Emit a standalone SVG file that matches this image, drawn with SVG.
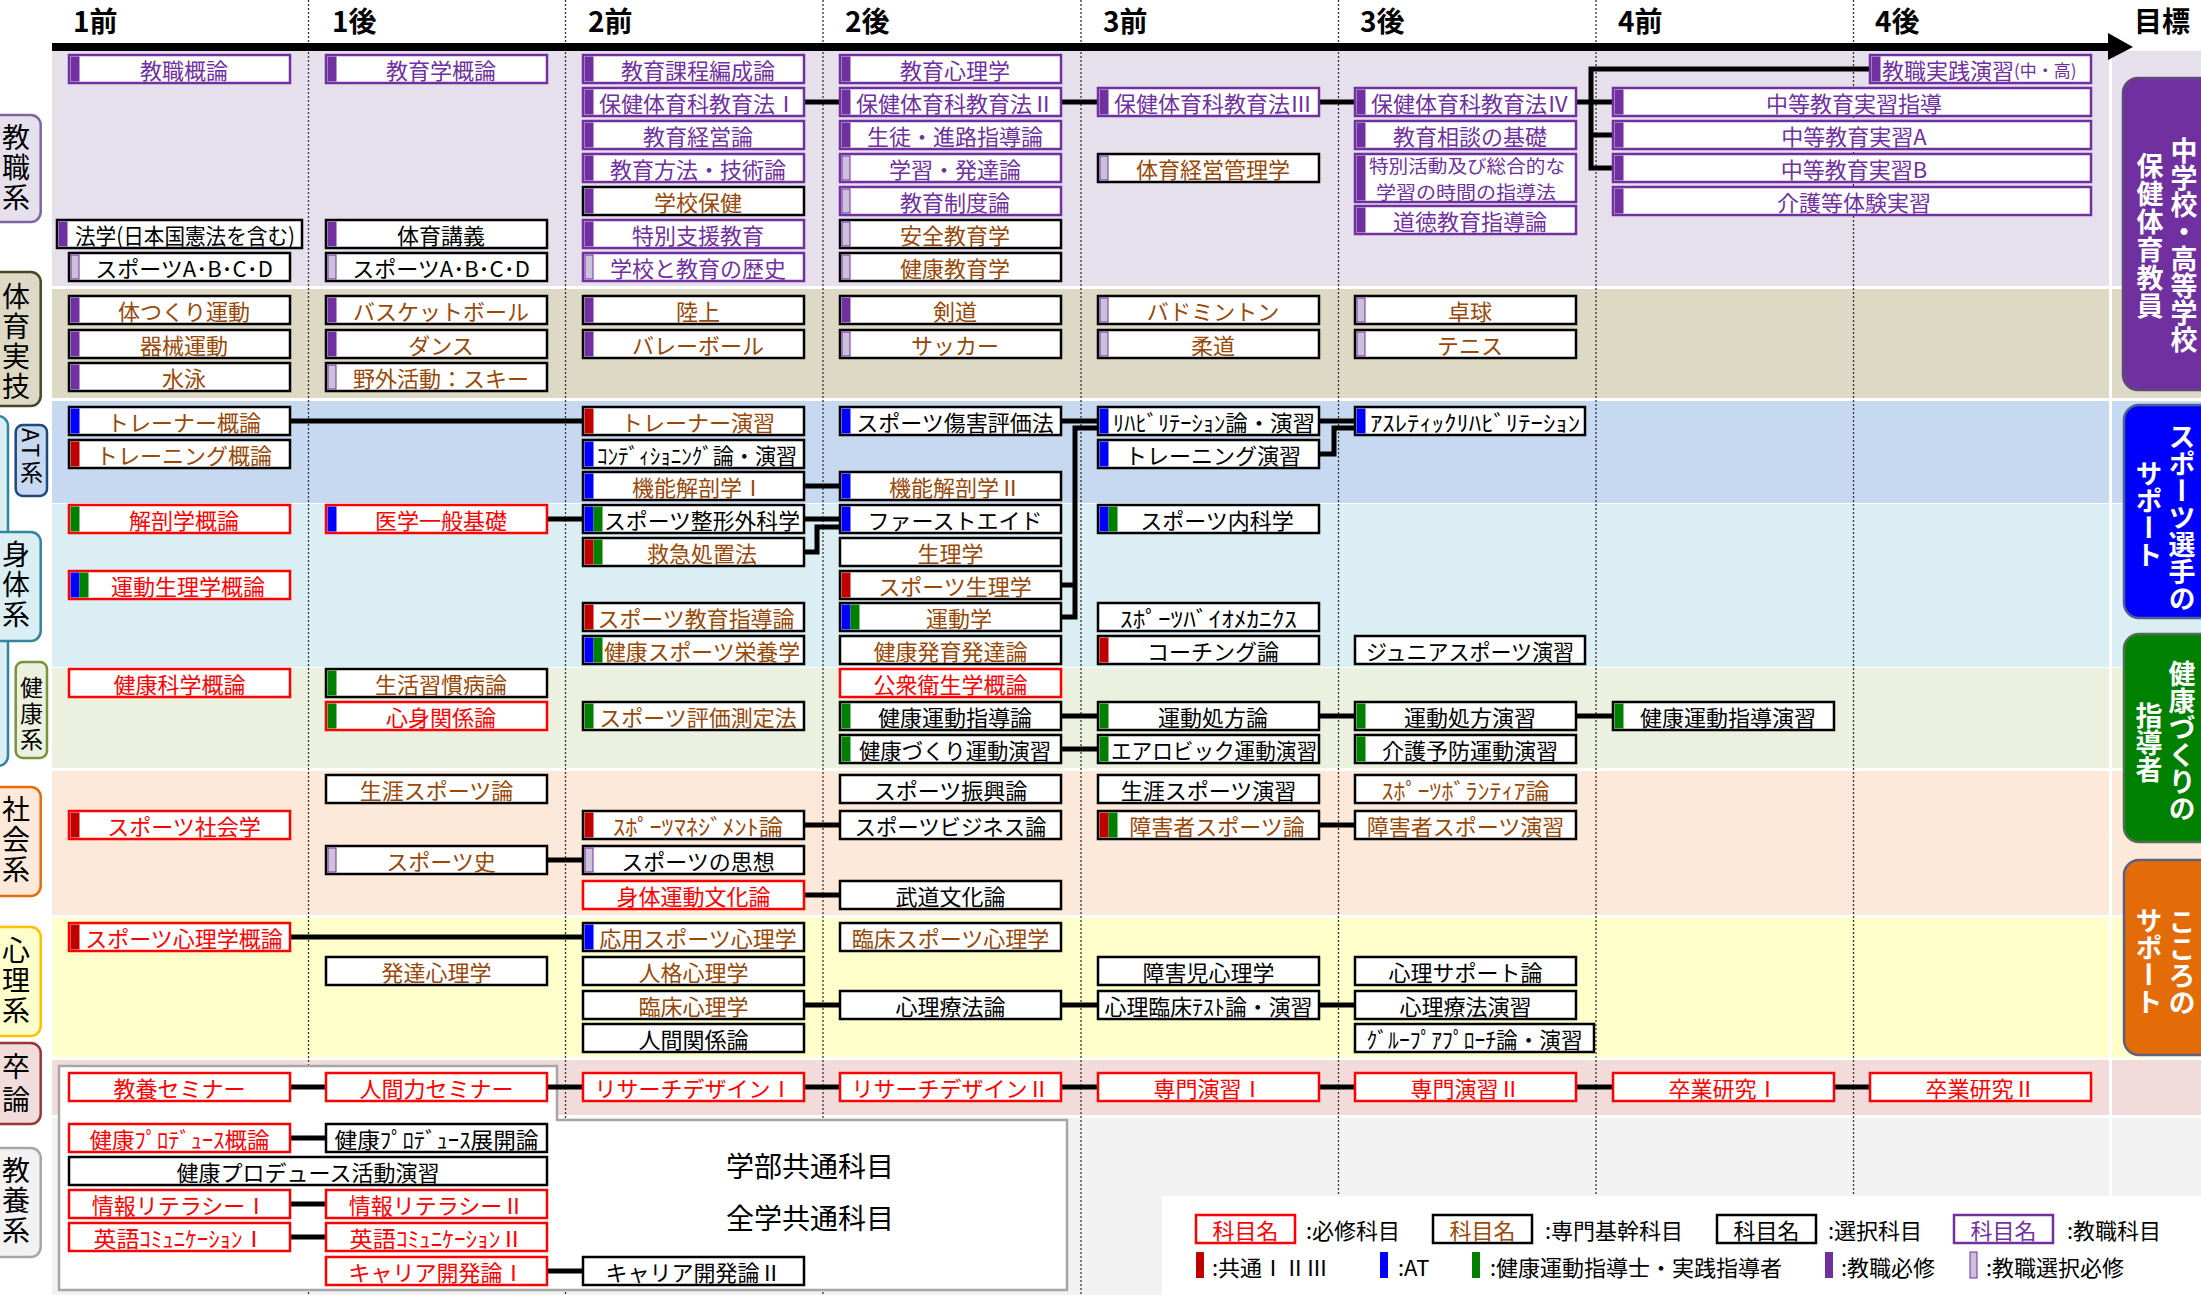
<svg xmlns="http://www.w3.org/2000/svg" width="2201" height="1295" viewBox="0 0 2201 1295">
<style>
text{font-family:"Noto Sans CJK JP","Noto Sans CJK SC","Noto Sans",sans-serif}
.b{fill:#fff;stroke:#000;stroke-width:2.5}
.bp{stroke:#7030A0}
.br{stroke:#FF0000}
.t{font-size:22px;text-anchor:middle;dominant-baseline:central}
.k{fill:#000}.o{fill:#984807}.p{fill:#7030A0}.r{fill:#FF0000}
.vp{fill:#7030A0}.vl{fill:#CCC0DA;stroke:#7030A0;stroke-width:1}.vr{fill:#C00000}.vb{fill:#0000FF}.vg{fill:#008000}
.c{fill:none;stroke:#000;stroke-width:5;stroke-linecap:square}
.h{font-size:28px;font-weight:bold;fill:#000}
.lab{font-size:28px;writing-mode:vertical-rl;letter-spacing:2px;fill:#000}
.labs{font-size:23px;writing-mode:vertical-rl;letter-spacing:3px;fill:#000}
.gl{fill:#fff;font-size:27px;font-weight:bold;writing-mode:vertical-rl}
.dot{stroke:#333;stroke-width:1.3;stroke-dasharray:2 2}
.lg{font-size:22px;dominant-baseline:central;fill:#000}
</style>
<rect width="2201" height="1295" fill="#fff"/>
<g id="bands">
<rect x="52" y="51" width="2149" height="235" fill="#E6E0EC"/>
<rect x="52" y="289" width="2149" height="109" fill="#DDD9C4"/>
<rect x="52" y="401" width="2149" height="102" fill="#C6D9F1"/>
<rect x="52" y="504" width="2149" height="163" fill="#DBEEF3"/>
<rect x="52" y="668" width="2149" height="100" fill="#EBF1DE"/>
<rect x="52" y="771" width="2149" height="144" fill="#FDE9D9"/>
<rect x="52" y="918" width="2149" height="139" fill="#FFFFCC"/>
<rect x="52" y="1060" width="2149" height="55" fill="#F2DCDB"/>
<rect x="52" y="1118" width="2149" height="177" fill="#F2F2F2"/>
<rect x="2109" y="51" width="3" height="1244" fill="#fff"/>
</g>
<g id="grid">
<line class="dot" x1="308.5" y1="0" x2="308.5" y2="1295"/>
<line class="dot" x1="565.5" y1="0" x2="565.5" y2="1295"/>
<line class="dot" x1="823" y1="0" x2="823" y2="1295"/>
<line class="dot" x1="1081" y1="0" x2="1081" y2="1295"/>
<line class="dot" x1="1338.5" y1="0" x2="1338.5" y2="1295"/>
<line class="dot" x1="1596" y1="0" x2="1596" y2="1295"/>
<line class="dot" x1="1853.5" y1="0" x2="1853.5" y2="1295"/>
</g>
<g id="header">
<rect x="52" y="43" width="2058" height="8" fill="#000"/>
<polygon points="2108,33 2133,47 2108,60" fill="#000"/>
<text class="h" x="73" y="32">1前</text>
<text class="h" x="332" y="32">1後</text>
<text class="h" x="588" y="32">2前</text>
<text class="h" x="845" y="32">2後</text>
<text class="h" x="1103" y="32">3前</text>
<text class="h" x="1360" y="32">3後</text>
<text class="h" x="1618" y="32">4前</text>
<text class="h" x="1875" y="32">4後</text>
<text class="h" x="2134" y="32">目標</text>
</g>
<g id="panel">
<path d="M59,1066H557V1120H1067V1290H59Z" fill="#fff" stroke="#A6A6A6" stroke-width="2.5"/>
<text x="726" y="1165" font-size="28" dominant-baseline="central">学部共通科目</text>
<text x="726" y="1217" font-size="28" dominant-baseline="central">全学共通科目</text>
</g>
<g id="labels">
<rect x="-20" y="115" width="60.7" height="107" rx="10" fill="#E6E0EC" stroke="#8064A2" stroke-width="2.5"/>
<text class="lab" x="16" y="123">教職系</text>
<rect x="-20" y="272" width="60.7" height="134" rx="10" fill="#DDD9C4" stroke="#4A452A" stroke-width="2.5"/>
<text class="lab" x="16" y="282">体育実技</text>
<rect x="-20" y="416" width="28" height="350" rx="10" fill="#DBEEF3" stroke="#31859C" stroke-width="2.5"/>
<rect x="-20" y="532" width="60.7" height="109" rx="10" fill="#DBEEF3" stroke="#31859C" stroke-width="2.5"/>
<text class="lab" x="16" y="540">身体系</text>
<rect x="15.7" y="425" width="31.3" height="71" rx="7" fill="#C6D9F1" stroke="#1F497D" stroke-width="2.5"/>
<text class="labs" x="31.5" y="428">AT系</text>
<rect x="15.7" y="662" width="31.3" height="96" rx="7" fill="#EBF1DE" stroke="#77933C" stroke-width="2.5"/>
<text class="labs" x="31.5" y="676">健康系</text>
<rect x="-20" y="787" width="60.7" height="109" rx="10" fill="#FDE9D9" stroke="#E46C0A" stroke-width="2.5"/>
<text class="lab" x="16" y="795">社会系</text>
<rect x="-20" y="927" width="60.7" height="109" rx="10" fill="#FFFFCC" stroke="#FFC000" stroke-width="2.5"/>
<text class="lab" x="16" y="936">心理系</text>
<rect x="-20" y="1043" width="60.7" height="81" rx="10" fill="#F2DCDB" stroke="#953735" stroke-width="2.5"/>
<text class="lab" x="16" y="1052" style="letter-spacing:5px">卒論</text>
<rect x="-20" y="1148" width="60.7" height="109" rx="10" fill="#F2F2F2" stroke="#A6A6A6" stroke-width="2.5"/>
<text class="lab" x="16" y="1156">教養系</text>
</g>
<g id="goals">
<rect x="2123" y="78" width="100" height="312" rx="15" fill="#7030A0" stroke="#5F497A" stroke-width="2.5"/>
<text class="gl" x="2184" y="137">中学校・高等学校</text>
<text class="gl" x="2150" y="152" style="letter-spacing:1px">保健体育教員</text>
<rect x="2124" y="405" width="100" height="213" rx="15" fill="#0000FF" stroke="#4F5F8F" stroke-width="2.5"/>
<text class="gl" x="2182" y="423">スポーツ選手の</text>
<text class="gl" x="2149" y="460">サポート</text>
<rect x="2124" y="634" width="100" height="208" rx="15" fill="#008000" stroke="#4F6F4F" stroke-width="2.5"/>
<text class="gl" x="2182" y="660">健康づくりの</text>
<text class="gl" x="2149" y="702">指導者</text>
<rect x="2124" y="860" width="100" height="195" rx="15" fill="#E36C09" stroke="#5F5F7F" stroke-width="2.5"/>
<text class="gl" x="2182" y="908">こころの</text>
<text class="gl" x="2149" y="907">サポート</text>
</g>
<g id="connectors">
<path class="c" d="M804,102H840M1061,102H1098M1319,102H1355M1576,102H1613M1591,69V168M1591,69H1870M1591,135H1613M1591,168H1613M290,421H583M547,519H583M804,486H840M804,519H840M804,552H817V527H840M1061,421H1098M1061,585H1075M1061,617H1075V428H1098M1319,421H1355M1319,454H1334V428H1355M1061,716H1098M1319,716H1355M1576,716H1613M1061,749H1098M804,825H840M1319,825H1355M547,860H583M804,895H840M290,937H583M804,1005H840M1061,1005H1098M1319,1005H1355M290,1087H326M547,1087H583M804,1087H840M1061,1087H1098M1319,1087H1355M1576,1087H1613M1834,1087H1870M290,1138H326M290,1204H326M290,1237H326M547,1271H583"/>
</g>
<g id="n01"><rect class="b bp" x="69" y="55" width="221" height="28"/><rect class="vp" x="70.5" y="56.5" width="9" height="25"/><text class="t p" x="184" y="69">教職概論</text></g>
<g id="n02"><rect class="b" x="57" y="220" width="245" height="28"/><rect class="vp" x="58.5" y="221.5" width="9" height="25"/><text class="t k" x="185" y="234" textLength="220" lengthAdjust="spacingAndGlyphs">法学(日本国憲法を含む)</text></g>
<g id="n03"><rect class="b" x="69" y="253" width="221" height="28"/><rect class="vl" x="71" y="255" width="8" height="24"/><text class="t k" x="184" y="267">スポーツA･B･C･D</text></g>
<g id="n04"><rect class="b bp" x="326" y="55" width="221" height="28"/><rect class="vp" x="327.5" y="56.5" width="9" height="25"/><text class="t p" x="441" y="69">教育学概論</text></g>
<g id="n05"><rect class="b" x="326" y="220" width="221" height="28"/><rect class="vp" x="327.5" y="221.5" width="9" height="25"/><text class="t k" x="441" y="234">体育講義</text></g>
<g id="n06"><rect class="b" x="326" y="253" width="221" height="28"/><rect class="vl" x="328" y="255" width="8" height="24"/><text class="t k" x="441" y="267">スポーツA･B･C･D</text></g>
<g id="n07"><rect class="b bp" x="583" y="55" width="221" height="28"/><rect class="vp" x="584.5" y="56.5" width="9" height="25"/><text class="t p" x="698" y="69">教育課程編成論</text></g>
<g id="n08"><rect class="b bp" x="583" y="88" width="221" height="28"/><rect class="vp" x="584.5" y="89.5" width="9" height="25"/><text class="t p" x="698" y="102">保健体育科教育法Ⅰ</text></g>
<g id="n09"><rect class="b bp" x="583" y="121" width="221" height="28"/><rect class="vp" x="584.5" y="122.5" width="9" height="25"/><text class="t p" x="698" y="135">教育経営論</text></g>
<g id="n10"><rect class="b bp" x="583" y="154" width="221" height="28"/><rect class="vp" x="584.5" y="155.5" width="9" height="25"/><text class="t p" x="698" y="168">教育方法・技術論</text></g>
<g id="n11"><rect class="b" x="583" y="187" width="221" height="28"/><rect class="vp" x="584.5" y="188.5" width="9" height="25"/><text class="t o" x="698" y="201">学校保健</text></g>
<g id="n12"><rect class="b bp" x="583" y="220" width="221" height="28"/><rect class="vp" x="584.5" y="221.5" width="9" height="25"/><text class="t p" x="698" y="234">特別支援教育</text></g>
<g id="n13"><rect class="b bp" x="583" y="253" width="221" height="28"/><rect class="vl" x="585" y="255" width="8" height="24"/><text class="t p" x="698" y="267">学校と教育の歴史</text></g>
<g id="n14"><rect class="b bp" x="840" y="55" width="221" height="28"/><rect class="vp" x="841.5" y="56.5" width="9" height="25"/><text class="t p" x="955" y="69">教育心理学</text></g>
<g id="n15"><rect class="b bp" x="840" y="88" width="221" height="28"/><rect class="vp" x="841.5" y="89.5" width="9" height="25"/><text class="t p" x="955" y="102">保健体育科教育法Ⅱ</text></g>
<g id="n16"><rect class="b bp" x="840" y="121" width="221" height="28"/><rect class="vp" x="841.5" y="122.5" width="9" height="25"/><text class="t p" x="955" y="135">生徒・進路指導論</text></g>
<g id="n17"><rect class="b bp" x="840" y="154" width="221" height="28"/><rect class="vl" x="842" y="156" width="8" height="24"/><text class="t p" x="955" y="168">学習・発達論</text></g>
<g id="n18"><rect class="b bp" x="840" y="187" width="221" height="28"/><rect class="vl" x="842" y="189" width="8" height="24"/><text class="t p" x="955" y="201">教育制度論</text></g>
<g id="n19"><rect class="b" x="840" y="220" width="221" height="28"/><rect class="vl" x="842" y="222" width="8" height="24"/><text class="t o" x="955" y="234">安全教育学</text></g>
<g id="n20"><rect class="b" x="840" y="253" width="221" height="28"/><rect class="vl" x="842" y="255" width="8" height="24"/><text class="t o" x="955" y="267">健康教育学</text></g>
<g id="n21"><rect class="b bp" x="1098" y="88" width="221" height="28"/><rect class="vp" x="1099.5" y="89.5" width="9" height="25"/><text class="t p" x="1213" y="102">保健体育科教育法Ⅲ</text></g>
<g id="n22"><rect class="b" x="1098" y="154" width="221" height="28"/><rect class="vl" x="1100" y="156" width="8" height="24"/><text class="t o" x="1213" y="168">体育経営管理学</text></g>
<g id="n23"><rect class="b bp" x="1355" y="88" width="221" height="28"/><rect class="vp" x="1356.5" y="89.5" width="9" height="25"/><text class="t p" x="1470" y="102">保健体育科教育法Ⅳ</text></g>
<g id="n24"><rect class="b bp" x="1355" y="121" width="221" height="28"/><rect class="vp" x="1356.5" y="122.5" width="9" height="25"/><text class="t p" x="1470" y="135">教育相談の基礎</text></g>
<g id="n25"><rect class="b bp" x="1355" y="154" width="221" height="48"/><rect class="vp" x="1356.5" y="155.5" width="9" height="45"/><text class="t p" x="1467" y="165" style="font-size:18px" textLength="196" lengthAdjust="spacingAndGlyphs">特別活動及び総合的な</text><text class="t p" x="1466" y="191" style="font-size:18px" textLength="180" lengthAdjust="spacingAndGlyphs">学習の時間の指導法</text></g>
<g id="n26"><rect class="b bp" x="1355" y="206" width="221" height="28"/><rect class="vp" x="1356.5" y="207.5" width="9" height="25"/><text class="t p" x="1470" y="220">道徳教育指導論</text></g>
<g id="n27"><rect class="b bp" x="1870" y="55" width="221" height="28"/><rect class="vp" x="1871.5" y="56.5" width="9" height="25"/><text class="p" x="1882" y="69" font-size="22" dominant-baseline="central">教職実践演習<tspan font-size="17">(中・高)</tspan></text></g>
<g id="n28"><rect class="b bp" x="1613" y="88" width="478" height="28"/><rect class="vp" x="1614.5" y="89.5" width="9" height="25"/><text class="t p" x="1854" y="102">中等教育実習指導</text></g>
<g id="n29"><rect class="b bp" x="1613" y="121" width="478" height="28"/><rect class="vp" x="1614.5" y="122.5" width="9" height="25"/><text class="t p" x="1854" y="135">中等教育実習A</text></g>
<g id="n30"><rect class="b bp" x="1613" y="154" width="478" height="28"/><rect class="vp" x="1614.5" y="155.5" width="9" height="25"/><text class="t p" x="1854" y="168">中等教育実習B</text></g>
<g id="n31"><rect class="b bp" x="1613" y="187" width="478" height="28"/><rect class="vp" x="1614.5" y="188.5" width="9" height="25"/><text class="t p" x="1854" y="201">介護等体験実習</text></g>
<g id="n32"><rect class="b" x="69" y="296" width="221" height="28"/><rect class="vp" x="70.5" y="297.5" width="9" height="25"/><text class="t o" x="184" y="310">体つくり運動</text></g>
<g id="n33"><rect class="b" x="69" y="330" width="221" height="28"/><rect class="vp" x="70.5" y="331.5" width="9" height="25"/><text class="t o" x="184" y="344">器械運動</text></g>
<g id="n34"><rect class="b" x="69" y="363" width="221" height="28"/><rect class="vp" x="70.5" y="364.5" width="9" height="25"/><text class="t o" x="184" y="377">水泳</text></g>
<g id="n35"><rect class="b" x="326" y="296" width="221" height="28"/><rect class="vp" x="327.5" y="297.5" width="9" height="25"/><text class="t o" x="441" y="310">バスケットボール</text></g>
<g id="n36"><rect class="b" x="326" y="330" width="221" height="28"/><rect class="vp" x="327.5" y="331.5" width="9" height="25"/><text class="t o" x="441" y="344">ダンス</text></g>
<g id="n37"><rect class="b" x="326" y="363" width="221" height="28"/><rect class="vl" x="328" y="365" width="8" height="24"/><text class="t o" x="441" y="377">野外活動：スキー</text></g>
<g id="n38"><rect class="b" x="583" y="296" width="221" height="28"/><rect class="vp" x="584.5" y="297.5" width="9" height="25"/><text class="t o" x="698" y="310">陸上</text></g>
<g id="n39"><rect class="b" x="583" y="330" width="221" height="28"/><rect class="vp" x="584.5" y="331.5" width="9" height="25"/><text class="t o" x="698" y="344">バレーボール</text></g>
<g id="n40"><rect class="b" x="840" y="296" width="221" height="28"/><rect class="vp" x="841.5" y="297.5" width="9" height="25"/><text class="t o" x="955" y="310">剣道</text></g>
<g id="n41"><rect class="b" x="840" y="330" width="221" height="28"/><rect class="vl" x="842" y="332" width="8" height="24"/><text class="t o" x="955" y="344">サッカー</text></g>
<g id="n42"><rect class="b" x="1098" y="296" width="221" height="28"/><rect class="vl" x="1100" y="298" width="8" height="24"/><text class="t o" x="1213" y="310">バドミントン</text></g>
<g id="n43"><rect class="b" x="1098" y="330" width="221" height="28"/><rect class="vl" x="1100" y="332" width="8" height="24"/><text class="t o" x="1213" y="344">柔道</text></g>
<g id="n44"><rect class="b" x="1355" y="296" width="221" height="28"/><rect class="vl" x="1357" y="298" width="8" height="24"/><text class="t o" x="1470" y="310">卓球</text></g>
<g id="n45"><rect class="b" x="1355" y="330" width="221" height="28"/><rect class="vl" x="1357" y="332" width="8" height="24"/><text class="t o" x="1470" y="344">テニス</text></g>
<g id="n46"><rect class="b" x="69" y="407" width="221" height="28"/><rect class="vb" x="70.5" y="408.5" width="9" height="25"/><text class="t o" x="184" y="421">トレーナー概論</text></g>
<g id="n47"><rect class="b" x="69" y="440" width="221" height="28"/><rect class="vr" x="70.5" y="441.5" width="9" height="25"/><text class="t o" x="184" y="454">トレーニング概論</text></g>
<g id="n48"><rect class="b" x="583" y="407" width="221" height="28"/><rect class="vr" x="584.5" y="408.5" width="9" height="25"/><text class="t o" x="698" y="421">トレーナー演習</text></g>
<g id="n49"><rect class="b" x="583" y="440" width="221" height="28"/><rect class="vb" x="584.5" y="441.5" width="9" height="25"/><text class="t k" x="697" y="454" textLength="200" lengthAdjust="spacingAndGlyphs">ｺﾝﾃﾞｨｼｮﾆﾝｸﾞ論・演習</text></g>
<g id="n50"><rect class="b" x="583" y="472" width="221" height="28"/><rect class="vb" x="584.5" y="473.5" width="9" height="25"/><text class="t o" x="698" y="486">機能解剖学Ⅰ</text></g>
<g id="n51"><rect class="b" x="840" y="407" width="221" height="28"/><rect class="vb" x="841.5" y="408.5" width="9" height="25"/><text class="t k" x="955" y="421">スポーツ傷害評価法</text></g>
<g id="n52"><rect class="b" x="840" y="472" width="221" height="28"/><rect class="vb" x="841.5" y="473.5" width="9" height="25"/><text class="t o" x="955" y="486">機能解剖学Ⅱ</text></g>
<g id="n53"><rect class="b" x="1098" y="407" width="221" height="28"/><rect class="vb" x="1099.5" y="408.5" width="9" height="25"/><text class="t k" x="1214" y="421" textLength="202" lengthAdjust="spacingAndGlyphs">ﾘﾊﾋﾞﾘﾃｰｼｮﾝ論・演習</text></g>
<g id="n54"><rect class="b" x="1098" y="440" width="221" height="28"/><rect class="vb" x="1099.5" y="441.5" width="9" height="25"/><text class="t k" x="1213" y="454">トレーニング演習</text></g>
<g id="n55"><rect class="b" x="1355" y="407" width="230" height="28"/><rect class="vb" x="1356.5" y="408.5" width="9" height="25"/><text class="t k" x="1475" y="421" textLength="210" lengthAdjust="spacingAndGlyphs">ｱｽﾚﾃｨｯｸﾘﾊﾋﾞﾘﾃｰｼｮﾝ</text></g>
<g id="n56"><rect class="b br" x="69" y="505" width="221" height="28"/><rect class="vg" x="70.5" y="506.5" width="9" height="25"/><text class="t r" x="184" y="519">解剖学概論</text></g>
<g id="n57"><rect class="b br" x="69" y="571" width="221" height="28"/><rect class="vb" x="70.5" y="572.5" width="9" height="25"/><rect class="vg" x="79.5" y="572.5" width="9" height="25"/><text class="t r" x="188" y="585">運動生理学概論</text></g>
<g id="n58"><rect class="b br" x="326" y="505" width="221" height="28"/><rect class="vb" x="327.5" y="506.5" width="9" height="25"/><text class="t r" x="441" y="519">医学一般基礎</text></g>
<g id="n59"><rect class="b" x="583" y="505" width="221" height="28"/><rect class="vb" x="584.5" y="506.5" width="9" height="25"/><rect class="vg" x="593.5" y="506.5" width="9" height="25"/><text class="t k" x="702" y="519" textLength="196" lengthAdjust="spacingAndGlyphs">スポーツ整形外科学</text></g>
<g id="n60"><rect class="b" x="583" y="538" width="221" height="28"/><rect class="vr" x="584.5" y="539.5" width="9" height="25"/><rect class="vg" x="593.5" y="539.5" width="9" height="25"/><text class="t o" x="702" y="552">救急処置法</text></g>
<g id="n61"><rect class="b" x="583" y="603" width="221" height="28"/><rect class="vr" x="584.5" y="604.5" width="9" height="25"/><text class="t o" x="696" y="617" textLength="197" lengthAdjust="spacingAndGlyphs">スポーツ教育指導論</text></g>
<g id="n62"><rect class="b" x="583" y="636" width="221" height="28"/><rect class="vb" x="584.5" y="637.5" width="9" height="25"/><rect class="vg" x="593.5" y="637.5" width="9" height="25"/><text class="t o" x="702" y="650" textLength="196" lengthAdjust="spacingAndGlyphs">健康スポーツ栄養学</text></g>
<g id="n63"><rect class="b" x="840" y="505" width="221" height="28"/><rect class="vb" x="841.5" y="506.5" width="9" height="25"/><text class="t k" x="955" y="519">ファーストエイド</text></g>
<g id="n64"><rect class="b" x="840" y="538" width="221" height="28"/><text class="t o" x="950.5" y="552">生理学</text></g>
<g id="n65"><rect class="b" x="840" y="571" width="221" height="28"/><rect class="vr" x="841.5" y="572.5" width="9" height="25"/><text class="t o" x="955" y="585">スポーツ生理学</text></g>
<g id="n66"><rect class="b" x="840" y="603" width="221" height="28"/><rect class="vb" x="841.5" y="604.5" width="9" height="25"/><rect class="vg" x="850.5" y="604.5" width="9" height="25"/><text class="t o" x="959" y="617">運動学</text></g>
<g id="n67"><rect class="b" x="840" y="636" width="221" height="28"/><text class="t o" x="950.5" y="650">健康発育発達論</text></g>
<g id="n68"><rect class="b" x="1098" y="505" width="221" height="28"/><rect class="vb" x="1099.5" y="506.5" width="9" height="25"/><rect class="vg" x="1108.5" y="506.5" width="9" height="25"/><text class="t k" x="1217" y="519">スポーツ内科学</text></g>
<g id="n69"><rect class="b" x="1098" y="603" width="221" height="28"/><text class="t k" x="1208.5" y="617" textLength="177" lengthAdjust="spacingAndGlyphs">ｽﾎﾟｰﾂﾊﾞｲｵﾒｶﾆｸｽ</text></g>
<g id="n70"><rect class="b" x="1098" y="636" width="221" height="28"/><rect class="vr" x="1099.5" y="637.5" width="9" height="25"/><text class="t k" x="1213" y="650">コーチング論</text></g>
<g id="n71"><rect class="b" x="1355" y="636" width="230" height="28"/><text class="t k" x="1470" y="650" textLength="208" lengthAdjust="spacingAndGlyphs">ジュニアスポーツ演習</text></g>
<g id="n72"><rect class="b br" x="69" y="669" width="221" height="28"/><text class="t r" x="179.5" y="683">健康科学概論</text></g>
<g id="n73"><rect class="b" x="326" y="669" width="221" height="28"/><rect class="vg" x="327.5" y="670.5" width="9" height="25"/><text class="t o" x="441" y="683">生活習慣病論</text></g>
<g id="n74"><rect class="b br" x="326" y="702" width="221" height="28"/><rect class="vg" x="327.5" y="703.5" width="9" height="25"/><text class="t r" x="441" y="716">心身関係論</text></g>
<g id="n75"><rect class="b" x="583" y="702" width="221" height="28"/><rect class="vg" x="584.5" y="703.5" width="9" height="25"/><text class="t o" x="698" y="716">スポーツ評価測定法</text></g>
<g id="n76"><rect class="b br" x="840" y="669" width="221" height="28"/><text class="t r" x="950.5" y="683">公衆衛生学概論</text></g>
<g id="n77"><rect class="b" x="840" y="702" width="221" height="28"/><rect class="vg" x="841.5" y="703.5" width="9" height="25"/><text class="t k" x="955" y="716">健康運動指導論</text></g>
<g id="n78"><rect class="b" x="840" y="735" width="221" height="28"/><rect class="vg" x="841.5" y="736.5" width="9" height="25"/><text class="t k" x="955" y="749" textLength="192" lengthAdjust="spacingAndGlyphs">健康づくり運動演習</text></g>
<g id="n79"><rect class="b" x="1098" y="702" width="221" height="28"/><rect class="vg" x="1099.5" y="703.5" width="9" height="25"/><text class="t k" x="1213" y="716">運動処方論</text></g>
<g id="n80"><rect class="b" x="1098" y="735" width="221" height="28"/><rect class="vg" x="1099.5" y="736.5" width="9" height="25"/><text class="t k" x="1214" y="749" textLength="206" lengthAdjust="spacingAndGlyphs">エアロビック運動演習</text></g>
<g id="n81"><rect class="b" x="1355" y="702" width="221" height="28"/><rect class="vg" x="1356.5" y="703.5" width="9" height="25"/><text class="t k" x="1470" y="716">運動処方演習</text></g>
<g id="n82"><rect class="b" x="1355" y="735" width="221" height="28"/><rect class="vg" x="1356.5" y="736.5" width="9" height="25"/><text class="t k" x="1470" y="749">介護予防運動演習</text></g>
<g id="n83"><rect class="b" x="1613" y="702" width="221" height="28"/><rect class="vg" x="1614.5" y="703.5" width="9" height="25"/><text class="t k" x="1728" y="716">健康運動指導演習</text></g>
<g id="n84"><rect class="b br" x="69" y="811" width="221" height="28"/><rect class="vr" x="70.5" y="812.5" width="9" height="25"/><text class="t r" x="184" y="825">スポーツ社会学</text></g>
<g id="n85"><rect class="b" x="326" y="775" width="221" height="28"/><text class="t o" x="436.5" y="789">生涯スポーツ論</text></g>
<g id="n86"><rect class="b" x="326" y="846" width="221" height="28"/><rect class="vl" x="328" y="848" width="8" height="24"/><text class="t o" x="441" y="860">スポーツ史</text></g>
<g id="n87"><rect class="b" x="583" y="811" width="221" height="28"/><rect class="vr" x="584.5" y="812.5" width="9" height="25"/><text class="t o" x="698" y="825" textLength="170" lengthAdjust="spacingAndGlyphs">ｽﾎﾟｰﾂﾏﾈｼﾞﾒﾝﾄ論</text></g>
<g id="n88"><rect class="b" x="583" y="846" width="221" height="28"/><rect class="vl" x="585" y="848" width="8" height="24"/><text class="t k" x="698" y="860">スポーツの思想</text></g>
<g id="n89"><rect class="b br" x="583" y="881" width="221" height="28"/><text class="t r" x="693.5" y="895">身体運動文化論</text></g>
<g id="n90"><rect class="b" x="840" y="775" width="221" height="28"/><text class="t k" x="950.5" y="789">スポーツ振興論</text></g>
<g id="n91"><rect class="b" x="840" y="811" width="221" height="28"/><text class="t k" x="950.5" y="825" textLength="192" lengthAdjust="spacingAndGlyphs">スポーツビジネス論</text></g>
<g id="n92"><rect class="b" x="840" y="881" width="221" height="28"/><text class="t k" x="950.5" y="895">武道文化論</text></g>
<g id="n93"><rect class="b" x="1098" y="775" width="221" height="28"/><text class="t k" x="1208.5" y="789">生涯スポーツ演習</text></g>
<g id="n94"><rect class="b" x="1098" y="811" width="221" height="28"/><rect class="vr" x="1099.5" y="812.5" width="9" height="25"/><rect class="vg" x="1108.5" y="812.5" width="9" height="25"/><text class="t o" x="1217" y="825">障害者スポーツ論</text></g>
<g id="n95"><rect class="b" x="1355" y="775" width="221" height="28"/><text class="t o" x="1465.5" y="789" textLength="168" lengthAdjust="spacingAndGlyphs">ｽﾎﾟｰﾂﾎﾞﾗﾝﾃｨｱ論</text></g>
<g id="n96"><rect class="b" x="1355" y="811" width="221" height="28"/><text class="t o" x="1465.5" y="825">障害者スポーツ演習</text></g>
<g id="n97"><rect class="b br" x="69" y="923" width="221" height="28"/><rect class="vr" x="70.5" y="924.5" width="9" height="25"/><text class="t r" x="184" y="937">スポーツ心理学概論</text></g>
<g id="n98"><rect class="b" x="326" y="957" width="221" height="28"/><text class="t o" x="436.5" y="971">発達心理学</text></g>
<g id="n99"><rect class="b" x="583" y="923" width="221" height="28"/><rect class="vb" x="584.5" y="924.5" width="9" height="25"/><text class="t o" x="698" y="937">応用スポーツ心理学</text></g>
<g id="n100"><rect class="b" x="583" y="957" width="221" height="28"/><text class="t o" x="693.5" y="971">人格心理学</text></g>
<g id="n101"><rect class="b" x="583" y="991" width="221" height="28"/><text class="t o" x="693.5" y="1005">臨床心理学</text></g>
<g id="n102"><rect class="b" x="583" y="1024" width="221" height="28"/><text class="t k" x="693.5" y="1038">人間関係論</text></g>
<g id="n103"><rect class="b" x="840" y="923" width="221" height="28"/><text class="t o" x="950.5" y="937">臨床スポーツ心理学</text></g>
<g id="n104"><rect class="b" x="840" y="991" width="221" height="28"/><text class="t k" x="950.5" y="1005">心理療法論</text></g>
<g id="n105"><rect class="b" x="1098" y="957" width="221" height="28"/><text class="t k" x="1208.5" y="971">障害児心理学</text></g>
<g id="n106"><rect class="b" x="1098" y="991" width="221" height="28"/><text class="t k" x="1208.5" y="1005" textLength="208" lengthAdjust="spacingAndGlyphs">心理臨床ﾃｽﾄ論・演習</text></g>
<g id="n107"><rect class="b" x="1355" y="957" width="221" height="28"/><text class="t k" x="1465.5" y="971">心理サポート論</text></g>
<g id="n108"><rect class="b" x="1355" y="991" width="221" height="28"/><text class="t k" x="1465.5" y="1005">心理療法演習</text></g>
<g id="n109"><rect class="b" x="1355" y="1024" width="239" height="28"/><text class="t k" x="1474.5" y="1038" textLength="216" lengthAdjust="spacingAndGlyphs">ｸﾞﾙｰﾌﾟｱﾌﾟﾛｰﾁ論・演習</text></g>
<g id="n110"><rect class="b br" x="69" y="1073" width="221" height="28"/><text class="t r" x="179.5" y="1087">教養セミナー</text></g>
<g id="n111"><rect class="b br" x="326" y="1073" width="221" height="28"/><text class="t r" x="436.5" y="1087">人間力セミナー</text></g>
<g id="n112"><rect class="b br" x="583" y="1073" width="221" height="28"/><text class="t r" x="693.5" y="1087">リサーチデザインⅠ</text></g>
<g id="n113"><rect class="b br" x="840" y="1073" width="221" height="28"/><text class="t r" x="950.5" y="1087">リサーチデザインⅡ</text></g>
<g id="n114"><rect class="b br" x="1098" y="1073" width="221" height="28"/><text class="t r" x="1208.5" y="1087">専門演習Ⅰ</text></g>
<g id="n115"><rect class="b br" x="1355" y="1073" width="221" height="28"/><text class="t r" x="1465.5" y="1087">専門演習Ⅱ</text></g>
<g id="n116"><rect class="b br" x="1613" y="1073" width="221" height="28"/><text class="t r" x="1723.5" y="1087">卒業研究Ⅰ</text></g>
<g id="n117"><rect class="b br" x="1870" y="1073" width="221" height="28"/><text class="t r" x="1980.5" y="1087">卒業研究Ⅱ</text></g>
<g id="n118"><rect class="b br" x="69" y="1124" width="221" height="28"/><text class="t r" x="179.5" y="1138" textLength="180" lengthAdjust="spacingAndGlyphs">健康ﾌﾟﾛﾃﾞｭｰｽ概論</text></g>
<g id="n119"><rect class="b" x="326" y="1124" width="221" height="28"/><text class="t k" x="436.5" y="1138" textLength="204" lengthAdjust="spacingAndGlyphs">健康ﾌﾟﾛﾃﾞｭｰｽ展開論</text></g>
<g id="n120"><rect class="b" x="69" y="1157" width="478" height="28"/><text class="t k" x="308" y="1171">健康プロデュース活動演習</text></g>
<g id="n121"><rect class="b br" x="69" y="1190" width="221" height="28"/><text class="t r" x="179.5" y="1204">情報リテラシーⅠ</text></g>
<g id="n122"><rect class="b br" x="326" y="1190" width="221" height="28"/><text class="t r" x="436.5" y="1204">情報リテラシーⅡ</text></g>
<g id="n123"><rect class="b br" x="69" y="1223" width="221" height="28"/><text class="t r" x="179.5" y="1237" textLength="172" lengthAdjust="spacingAndGlyphs">英語ｺﾐｭﾆｹｰｼｮﾝⅠ</text></g>
<g id="n124"><rect class="b br" x="326" y="1223" width="221" height="28"/><text class="t r" x="436.5" y="1237" textLength="174" lengthAdjust="spacingAndGlyphs">英語ｺﾐｭﾆｹｰｼｮﾝⅡ</text></g>
<g id="n125"><rect class="b br" x="326" y="1257" width="221" height="28"/><text class="t r" x="436.5" y="1271">キャリア開発論Ⅰ</text></g>
<g id="n126"><rect class="b" x="583" y="1257" width="221" height="28"/><text class="t k" x="693.5" y="1271">キャリア開発論Ⅱ</text></g>
<g id="legend">
<rect x="1162" y="1196" width="1039" height="99" fill="#fff"/>
<rect class="b br" x="1196" y="1215" width="99" height="28"/><text class="t r" x="1245.5" y="1229">科目名</text>
<text class="lg" x="1306" y="1229">:必修科目</text>
<rect class="b" x="1433" y="1215" width="99" height="28"/><text class="t o" x="1482.5" y="1229">科目名</text>
<text class="lg" x="1545" y="1229">:専門基幹科目</text>
<rect class="b" x="1717" y="1215" width="99" height="28"/><text class="t k" x="1766.5" y="1229">科目名</text>
<text class="lg" x="1828" y="1229">:選択科目</text>
<rect class="b bp" x="1954" y="1215" width="99" height="28"/><text class="t p" x="2003.5" y="1229">科目名</text>
<text class="lg" x="2067" y="1229">:教職科目</text>
<rect class="vr" x="1196" y="1252" width="8" height="26"/><text class="lg" x="1212" y="1266">:共通ⅠⅡⅢ</text>
<rect class="vb" x="1380" y="1252" width="8" height="26"/><text class="lg" x="1398" y="1266">:AT</text>
<rect class="vg" x="1472" y="1252" width="8" height="26"/><text class="lg" x="1490" y="1266">:健康運動指導士・実践指導者</text>
<rect class="vp" x="1825" y="1252" width="8" height="26"/><text class="lg" x="1841" y="1266">:教職必修</text>
<rect class="vl" x="1970" y="1252" width="7" height="26"/><text class="lg" x="1986" y="1266">:教職選択必修</text>
</g>
</svg>
